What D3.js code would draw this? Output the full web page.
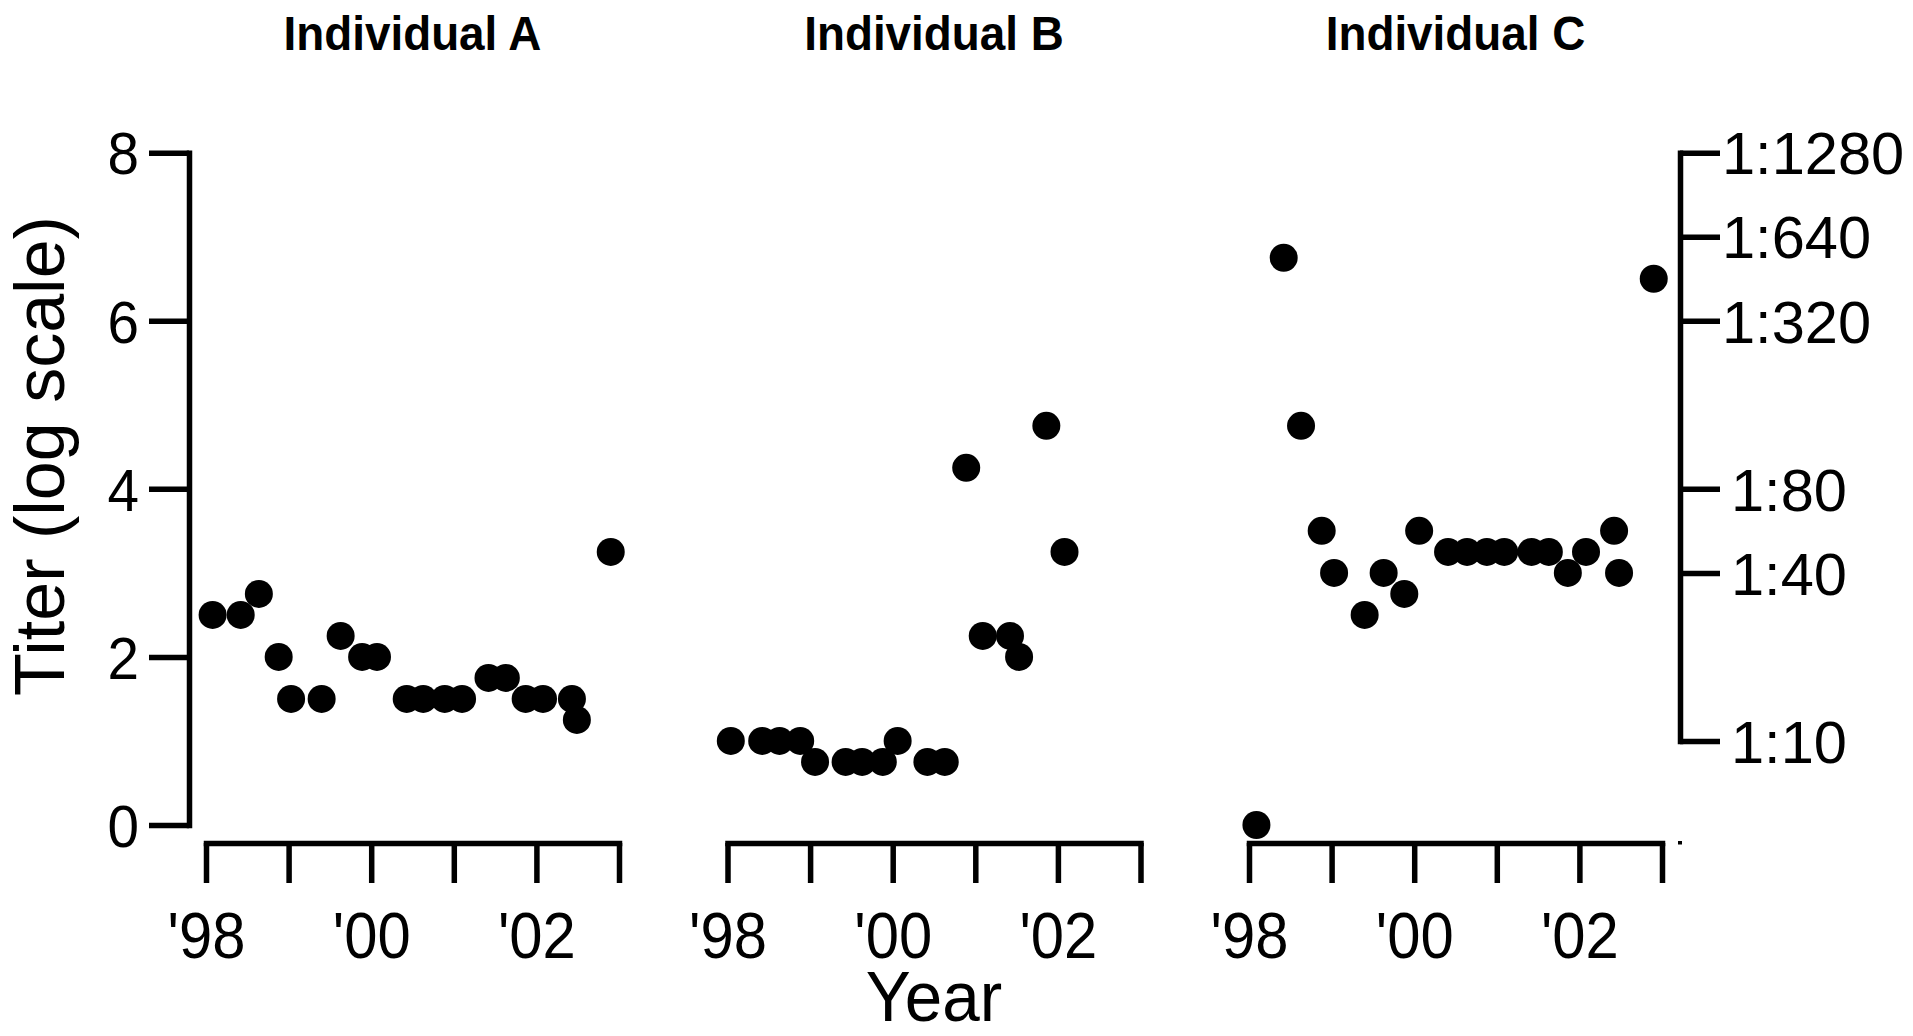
<!DOCTYPE html>
<html>
<head>
<meta charset="utf-8">
<script src="https://cdn.jsdelivr.net/npm/d3@7"></script>
<style>
  html, body { margin: 0; padding: 0; background: #fff; }
  svg { display: block; font-family: "Liberation Sans", Arial, sans-serif; }
</style>
</head>
<body>
<svg id="chart" width="1913" height="1036"></svg>
<script>
// Panels, one per individual
const individuals = ["Individual A", "Individual B", "Individual C"];

// Sampling dates (decimal years) and titers (log2 scale) per individual
const datesA = [1998.08, 1998.42, 1998.64, 1998.88, 1999.03, 1999.40, 1999.63, 1999.89, 2000.07, 2000.43,
                2000.63, 2000.89, 2001.10, 2001.42, 2001.63, 2001.87, 2002.08, 2002.43, 2002.49, 2002.90];
const titerA = [2.5, 2.5, 2.75, 2.0, 1.5, 1.5, 2.25, 2.0, 2.0, 1.5,
                1.5, 1.5, 1.5, 1.75, 1.75, 1.5, 1.5, 1.5, 1.25, 3.25];

const datesB = [1998.04, 1998.42, 1998.63, 1998.88, 1999.06, 1999.43, 1999.63, 1999.88, 2000.06, 2000.42,
                2000.63, 2000.89, 2001.09, 2001.42, 2001.53, 2001.86, 2002.08];
const titerB = [1.0, 1.0, 1.0, 1.0, 0.75, 0.75, 0.75, 0.75, 1.0, 0.75,
                0.75, 4.25, 2.25, 2.25, 2.0, 4.75, 3.25];

const datesC = [1998.09, 1998.42, 1998.63, 1998.88, 1999.03, 1999.40, 1999.63, 1999.88, 2000.06, 2000.41,
                2000.64, 2000.88, 2001.09, 2001.42, 2001.63, 2001.86, 2002.08, 2002.42, 2002.48, 2002.90];
const titerC = [0.0, 6.75, 4.75, 3.5, 3.0, 2.5, 3.0, 2.75, 3.5, 3.25,
                3.25, 3.25, 3.25, 3.25, 3.25, 3.0, 3.25, 3.5, 3.0, 6.5];

// Axis ticks and labels
const yearTicks = [1998, 1999, 2000, 2001, 2002, 2003];
const yearLabels = { 1998: "'98", 2000: "'00", 2002: "'02" };
const leftTicks = [0, 2, 4, 6, 8];
const rightTicks = [1, 3, 4, 6, 7, 8];
const rightLabels = ["1:10", "1:40", "1:80", "1:320", "1:640", "1:1280"];

const series = [
  { name: individuals[0], dates: datesA, titers: titerA },
  { name: individuals[1], dates: datesB, titers: titerB },
  { name: individuals[2], dates: datesC, titers: titerC }
];

// Layout
const panelLeft = [206, 727.5, 1249];
const panelWidth = 413;
const xAxisY = 843;
const yTop = 152.7, yBottom = 825;
const leftAxisX = 189, rightAxisX = 1680;
const stroke = 5.5;
const dotR = 14;

const svg = d3.select("#chart");

const y = d3.scaleLinear().domain([0, 8]).range([yBottom, yTop]);

function styleAxis(g) {
  g.selectAll("path.domain").attr("stroke", "#000").attr("stroke-width", stroke)
    .attr("stroke-linecap", "square").attr("fill", "none");
  g.selectAll(".tick line").attr("stroke", "#000").attr("stroke-width", stroke)
    .attr("stroke-linecap", "butt");
}

// Horizontally squeeze a text element while keeping its anchor position
function squeeze(sel, sx) {
  sel.each(function () {
    const t = d3.select(this);
    const x = +t.attr("x") || 0;
    t.attr("x", x / sx).attr("transform", `scale(${sx},1)`);
  });
}

// Left axis
const gLeft = svg.append("g").attr("transform", `translate(${leftAxisX},0)`)
  .call(d3.axisLeft(y).tickValues(leftTicks).tickFormat(d3.format("d"))
    .tickSizeInner(40).tickSizeOuter(0).tickPadding(10));
styleAxis(gLeft);
gLeft.selectAll(".tick text").attr("font-size", 59).attr("fill", "#000")
  .attr("font-family", "Liberation Sans, Arial, sans-serif").attr("dy", "0.36em")
  .call(squeeze, 0.96);

// Right axis: dilution titers
const yRight = d3.scaleLinear().domain([1, 8]).range([y(1), y(8)]);
const gRight = svg.append("g").attr("transform", `translate(${rightAxisX},0)`)
  .call(d3.axisRight(yRight).tickValues(rightTicks)
    .tickFormat((d, i) => rightLabels[i])
    .tickSizeInner(40).tickSizeOuter(0).tickPadding(2));
styleAxis(gRight);
gRight.selectAll(".tick text").attr("font-size", 59).attr("fill", "#000")
  .attr("font-family", "Liberation Sans, Arial, sans-serif").attr("dy", "0.36em")
  .each(function () {
    // shorter labels sit a little further from the tick
    const t = d3.select(this);
    if (t.text().length <= 4) t.attr("x", +t.attr("x") + 9);
  })
  .call(squeeze, 1.01);
// small end mark of the right axis at the baseline level
svg.append("rect").attr("x", rightAxisX - 2).attr("y", xAxisY - 2)
  .attr("width", 4).attr("height", 3.5).attr("fill", "#000");

// Panels
series.forEach((s, i) => {
  const x = d3.scaleLinear().domain([1998, 2003])
    .range([panelLeft[i], panelLeft[i] + panelWidth]);

  const gx = svg.append("g").attr("transform", `translate(0,${xAxisY})`)
    .call(d3.axisBottom(x).tickValues(yearTicks)
      .tickFormat(d => yearLabels[d] || "")
      .tickSizeInner(40).tickSizeOuter(0).tickPadding(29));
  styleAxis(gx);
  gx.selectAll(".tick text").attr("font-size", 65).attr("fill", "#000")
    .attr("font-family", "Liberation Sans, Arial, sans-serif")
    .call(squeeze, 0.92);

  svg.append("text")
    .attr("x", (panelLeft[i] + panelWidth / 2) / 0.935).attr("y", 50)
    .attr("transform", "scale(0.935,1)")
    .attr("text-anchor", "middle").attr("font-size", 49).attr("font-weight", "bold")
    .text(s.name);

  const pts = s.dates.map((d, k) => ({ date: d, titer: s.titers[k] }));
  svg.append("g").selectAll("circle").data(pts).join("circle")
    .attr("cx", d => x(d.date)).attr("cy", d => y(d.titer))
    .attr("r", dotR).attr("fill", "#000");
});

// Axis titles
svg.append("text")
  .attr("transform", "translate(64,456) rotate(-90)")
  .attr("text-anchor", "middle").attr("font-size", 70)
  .text("Titer (log scale)");

svg.append("text")
  .attr("x", (panelLeft[1] + panelWidth / 2) / 0.95).attr("y", 1021)
  .attr("transform", "scale(0.95,1)")
  .attr("text-anchor", "middle").attr("font-size", 71)
  .text("Year");
</script>
</body>
</html>
